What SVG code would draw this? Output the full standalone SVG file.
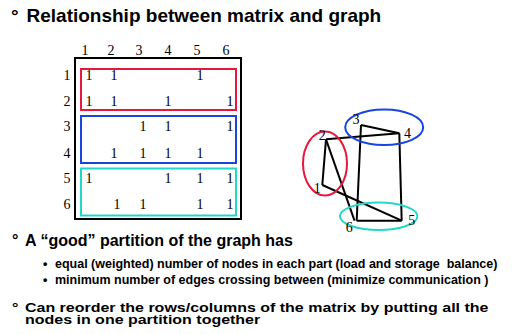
<svg xmlns="http://www.w3.org/2000/svg" width="512" height="334" viewBox="0 0 512 334">
<style>
.h{font-family:"Liberation Sans",Arial,sans-serif;font-weight:bold;fill:#000}
.m{font-family:"Liberation Serif","Times New Roman",serif;font-size:14px;fill:#000;text-anchor:middle}
.e{fill:none;stroke:#000;stroke-width:2}
</style>
<rect width="512" height="334" fill="#fff"/>
<g id="title">
<text class="h" x="11" y="21.5" font-size="19">°</text>
<text class="h" x="26.5" y="21.5" font-size="19">Relationship between matrix and graph</text>
</g>
<g id="matrix">
<rect x="75" y="58" width="166" height="161" fill="none" stroke="#000" stroke-width="2"/>
<rect x="81" y="69" width="155" height="41" fill="none" stroke="#e8183c" stroke-width="2"/>
<rect x="81" y="116" width="155" height="47" fill="none" stroke="#1a44e0" stroke-width="2"/>
<rect x="81" y="168.5" width="155" height="47" fill="none" stroke="#20d8c8" stroke-width="2"/>
<g class="m">
<text x="85" y="55">1</text><text x="111" y="55">2</text><text x="139" y="55">3</text><text x="168" y="55">4</text><text x="197" y="55">5</text><text x="226" y="55">6</text>
<text x="67" y="80">1</text><text x="67" y="106">2</text><text x="67" y="131">3</text><text x="67" y="158">4</text><text x="67" y="183">5</text><text x="67" y="209">6</text>
<text x="89" y="80">1</text><text x="114" y="80">1</text><text x="200" y="80">1</text>
<text x="89" y="106">1</text><text x="114" y="106">1</text><text x="168" y="106">1</text><text x="230" y="106">1</text>
<text x="143" y="131">1</text><text x="168" y="131">1</text><text x="230" y="131">1</text>
<text x="114" y="158">1</text><text x="143" y="158">1</text><text x="168" y="158">1</text><text x="200" y="158">1</text>
<text x="89" y="183">1</text><text x="168" y="183">1</text><text x="200" y="183">1</text><text x="230" y="183">1</text>
<text x="117" y="209">1</text><text x="143" y="209">1</text><text x="200" y="209">1</text><text x="230" y="209">1</text>
</g>
</g>
<g id="connectors">
<line class="e" x1="326" y1="139.3" x2="399.3" y2="133.3"/>
<line class="e" x1="361" y1="125" x2="399.3" y2="133.3"/>
<line class="e" x1="361" y1="125" x2="356.7" y2="220.7"/>
<line class="e" x1="399.3" y1="133.3" x2="401.7" y2="220.7"/>
<line class="e" x1="356.7" y1="220.7" x2="401.7" y2="220.7"/>
<line class="e" x1="326" y1="139.3" x2="322.3" y2="185"/>
<line class="e" x1="322.3" y1="185" x2="401.7" y2="220.7"/>
<line class="e" x1="326" y1="139.3" x2="354.5" y2="220.7"/>
</g>
<g id="part-red"><ellipse cx="325" cy="163.5" rx="22" ry="32" fill="none" stroke="#e8183c" stroke-width="2"/></g>
<g id="part-blue"><ellipse cx="384.2" cy="127.2" rx="39" ry="17.8" fill="none" stroke="#1a44e0" stroke-width="2"/></g>
<g id="part-cyan"><ellipse cx="378.7" cy="216.3" rx="38.7" ry="13.7" fill="none" stroke="#20d8c8" stroke-width="2"/></g>
<g id="node-1"><text class="m" x="317.3" y="193">1</text></g>
<g id="node-2"><text class="m" x="322.3" y="140">2</text></g>
<g id="node-3"><text class="m" x="356" y="124">3</text></g>
<g id="node-4"><text class="m" x="407.5" y="138">4</text></g>
<g id="node-5"><text class="m" x="411.7" y="225">5</text></g>
<g id="node-6"><text class="m" x="349.3" y="231.5">6</text></g>
<g id="bullets">
<text class="h" x="12" y="245.5" font-size="16">°</text>
<text class="h" x="25" y="245.5" font-size="16">A “good” partition of the graph has</text>
<text class="h" x="43" y="268" font-size="12.5">•</text>
<text class="h" x="55" y="268" font-size="12.5" xml:space="preserve">equal (weighted) number of nodes in each part (load and storage  balance)</text>
<text class="h" x="43" y="284" font-size="12.5">•</text>
<text class="h" x="55" y="284" font-size="12.5" xml:space="preserve">minimum number of edges crossing between (minimize communication )</text>
<g transform="scale(1,0.8)">
<text class="h" x="12" y="390.4" font-size="16">°</text>
<text class="h" x="25" y="390.4" font-size="16">Can reorder the rows/columns of the matrix by putting all the</text>
<text class="h" x="25" y="405" font-size="16">nodes in one partition together</text>
</g>
</g>
</svg>
